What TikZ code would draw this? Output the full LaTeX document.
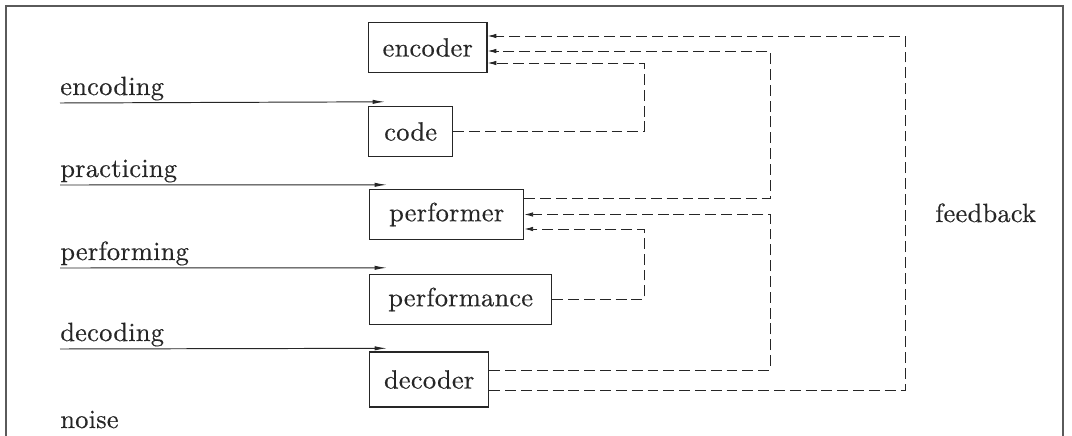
\documentclass[tikz,border=0pt]{standalone}
\usepackage{fontspec}
\setmainfont{lmroman10-regular.otf}[LetterSpace=1,FakeBold=0.4]
\usepackage{xcolor}
\usepackage{tikz}
\usetikzlibrary{arrows.meta}

\definecolor{ink}{HTML}{262626}
\definecolor{rule}{HTML}{5A5A5A}

\tikzset{
    box/.style={draw=ink,line width=0.8pt,anchor=west,inner xsep=0.28cm,minimum height=1cm,text=ink,font=\fontsize{15}{18}\selectfont},
    lbl/.style={anchor=base west,inner sep=0pt,text=ink,font=\fontsize{15}{18}\selectfont},
    inarrow/.style={draw=ink,line width=0.55pt,-{Latex[length=7pt,width=2.4pt]}},
    fb/.style={draw=ink,line width=0.5pt,dash pattern=on 6.2pt off 2.8pt,-{Latex[length=5pt,width=2.6pt]}},
}

\begin{document}
\begin{tikzpicture}[x=0.02cm,y=-0.02cm]
    \useasboundingbox (0,0) rectangle (1072,436);
    \draw[rule,line width=0.7pt] (6,436) -- (6,6) -- (1063,6) -- (1063,436);

    \node[box,minimum width=2.36cm] (encoder) at (368,47.5) {encoder};
    \node[box,minimum width=1.68cm] (code) at (368,131.5) {code};
    \node[box,minimum width=3.08cm] (performer) at (369,214.5) {performer};
    \node[box,minimum width=3.64cm] (performance) at (369,299.5) {performance};
    \node[box,minimum width=2.38cm,minimum height=1.1cm] (decoder) at (369,379.5) {decoder};

    \node[lbl] (encoding) at (60,95) {encoding};
    \node[lbl] (practicing) at (60,177) {practicing};
    \node[lbl] (performing) at (60,260) {performing};
    \node[lbl] (decoding) at (60,341) {decoding};
    \node[lbl] (noise) at (60,428) {noise};
    \node[lbl] (feedback) at (935,222) {feedback};

    \coordinate (c1) at (644,0);
    \coordinate (c2) at (770,0);
    \coordinate (c3) at (905,0);

    \draw[inarrow] ([yshift=-0.16cm]encoding.base west) -- ([xshift=0.34cm,yshift=0.08cm]code.north west);
    \draw[inarrow] ([yshift=-0.16cm]practicing.base west) -- ([xshift=0.36cm,yshift=0.08cm]performer.north west);
    \draw[inarrow] ([yshift=-0.16cm]performing.base west) -- ([xshift=0.36cm,yshift=0.12cm]performance.north west);
    \draw[inarrow] ([yshift=-0.16cm]decoding.base west) -- ([xshift=0.36cm,yshift=0.06cm]decoder.north west);

    \draw[fb] (code.east) -- (code.east -| c1) |- ([yshift=-0.31cm]encoder.east);
    \draw[fb] ([yshift=0.33cm]performer.east) -- ([yshift=0.33cm]performer.east -| c2) |- ([yshift=-0.07cm]encoder.east);
    \draw[fb] ([yshift=-0.21cm]decoder.east) -- ([yshift=-0.21cm]decoder.east -| c3) |- ([yshift=0.23cm]encoder.east);
    \draw[fb] ([yshift=0.19cm]decoder.east) -- ([yshift=0.19cm]decoder.east -| c2) |- (performer.east);
    \draw[fb] (performance.east) -- (performance.east -| c1) |- ([yshift=-0.29cm]performer.east);
\end{tikzpicture}
\end{document}
